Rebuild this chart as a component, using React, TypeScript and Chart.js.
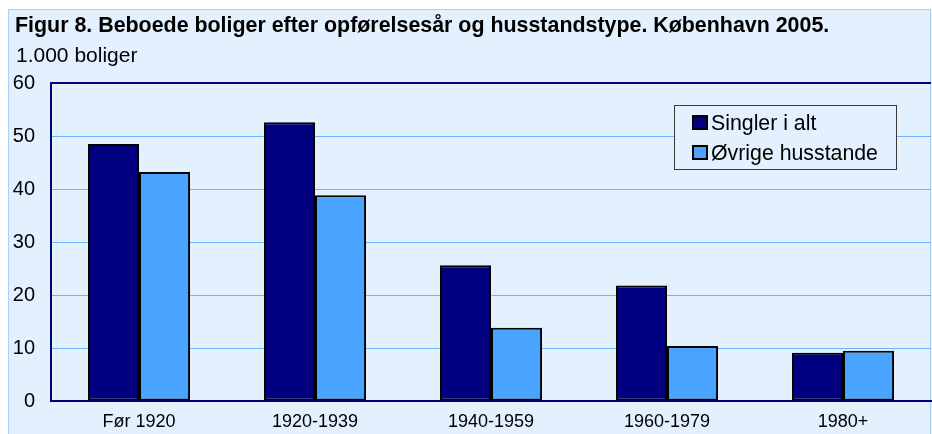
import React, { useEffect, useRef } from "react";
import { Chart, registerables } from "chart.js";

Chart.register(...registerables);

const titleText = "Figur 8. Beboede boliger efter opførelsesår og husstandstype. København 2005.";
const unitText = "1.000 boliger";
const categories = ["Før 1920", "1920-1939", "1940-1959", "1960-1979", "1980+"];
const singler = [48.5, 52.6, 25.6, 21.8, 9.1];
const oevrige = [43.2, 38.8, 13.8, 10.4, 9.5];
const seriesNames = ["Singler i alt", "Øvrige husstande"];
const seriesColors = ["#000080", "#48A4FF"];

const FONT = "'Liberation Sans', Arial, Helvetica, sans-serif";
const BG = "#E3F0FE";
const BOX_BORDER = "#A8D1F7";
const NAVY = "#000080";

const framePlugin = {
  id: "frame",
  beforeDraw(chart: any) {
    const { ctx, width, height } = chart;
    ctx.save();
    ctx.fillStyle = "#FFFFFF";
    ctx.fillRect(0, 0, width, height);
    ctx.fillStyle = BG;
    ctx.fillRect(8, 9, width - 8, height - 9);
    ctx.strokeStyle = BOX_BORDER;
    ctx.lineWidth = 1;
    ctx.strokeRect(8.5, 9.5, width - 10, height);
    ctx.fillStyle = "#000000";
    ctx.textBaseline = "alphabetic";
    ctx.textAlign = "left";
    ctx.font = `bold 21.4px ${FONT}`;
    ctx.fillText(titleText, 15, 32);
    ctx.font = `21px ${FONT}`;
    ctx.fillText(unitText, 16, 62);
    ctx.restore();
  },
  afterDraw(chart: any) {
    const { ctx, chartArea } = chart;
    ctx.save();
    ctx.strokeStyle = NAVY;
    ctx.lineWidth = 2;
    ctx.beginPath();
    ctx.moveTo(chartArea.left - 1, chartArea.top);
    ctx.lineTo(chartArea.right, chartArea.top);
    ctx.stroke();
    const lx = 674.5, ly = 105.5, lw = 222, lh = 64;
    ctx.fillStyle = BG;
    ctx.fillRect(lx, ly, lw, lh);
    ctx.strokeStyle = "#3A3A3A";
    ctx.lineWidth = 1;
    ctx.strokeRect(lx, ly, lw, lh);
    ctx.font = `21.3px ${FONT}`;
    ctx.textBaseline = "alphabetic";
    ctx.textAlign = "left";
    chart.data.datasets.forEach((ds: any, i: number) => {
      const sy = 115 + i * 30;
      ctx.fillStyle = ds.backgroundColor;
      ctx.fillRect(692, sy, 16, 15);
      ctx.strokeStyle = "#000";
      ctx.lineWidth = 2;
      ctx.strokeRect(693, sy + 1, 14, 13);
      ctx.fillStyle = "#000";
      ctx.fillText(ds.label, 711, sy + 15);
    });
    ctx.restore();
  },
};

export default function App() {
  const ref = useRef<HTMLCanvasElement | null>(null);
  useEffect(() => {
    if (!ref.current) return;
    const chart = new Chart(ref.current, {
      type: "bar",
      data: {
        labels: categories,
        datasets: [
          {
            label: seriesNames[0],
            data: singler,
            backgroundColor: seriesColors[0],
            borderColor: "#000",
            borderWidth: 2,
            borderSkipped: false,
            barPercentage: 1,
            categoryPercentage: 0.58,
          },
          {
            label: seriesNames[1],
            data: oevrige,
            backgroundColor: seriesColors[1],
            borderColor: "#000",
            borderWidth: 2,
            borderSkipped: false,
            barPercentage: 1,
            categoryPercentage: 0.58,
          },
        ],
      },
      options: {
        animation: false,
        responsive: true,
        maintainAspectRatio: false,
        devicePixelRatio: 1,
        layout: { padding: { left: 12, top: 83, right: 1, bottom: 0 } },
        plugins: {
          legend: { display: false },
          title: { display: false },
          tooltip: { enabled: false },
        },
        scales: {
          x: {
            grid: { display: false, drawTicks: false },
            border: { color: NAVY, width: 2 },
            ticks: { color: "#000", font: { family: FONT, size: 18 }, padding: 10, maxRotation: 0 },
            afterFit(scale: any) {
              scale.height = 33;
            },
          },
          y: {
            min: 0,
            max: 60,
            grid: { color: "#6CB4FF", lineWidth: 1, drawTicks: false },
            border: { color: NAVY, width: 2 },
            ticks: { stepSize: 10, color: "#000", font: { family: FONT, size: 20 }, padding: 16 },
            afterFit(scale: any) {
              scale.width = 39;
            },
          },
        },
      },
      plugins: [framePlugin],
    });
    return () => chart.destroy();
  }, []);
  return (
    <div style={{ position: "fixed", left: 0, top: 0, width: 932, height: 434 }}>
      <canvas ref={ref} />
    </div>
  );
}
